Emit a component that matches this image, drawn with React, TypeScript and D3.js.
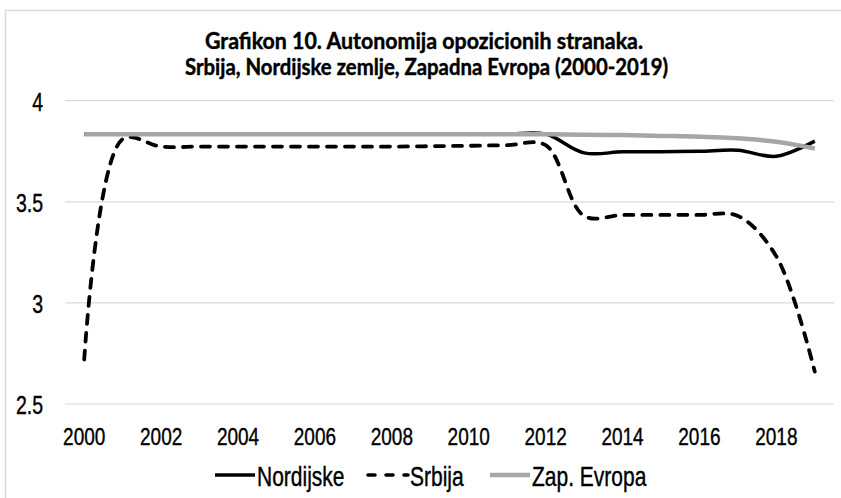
import React from "react";
import * as d3 from "d3";

const years = d3.range(2000, 2020).map(String);
const xTickLabels = ["2000", "2002", "2004", "2006", "2008", "2010", "2012", "2014", "2016", "2018"];
const yTicks = [2.5, 3, 3.5, 4];

const nordijske = [3.835, 3.835, 3.835, 3.835, 3.835, 3.835, 3.835, 3.835, 3.835, 3.835, 3.835, 3.835, 3.835, 3.742, 3.747, 3.748, 3.75, 3.755, 3.725, 3.8];
const srbija = [2.72, 3.81, 3.773, 3.773, 3.773, 3.773, 3.773, 3.773, 3.773, 3.775, 3.777, 3.78, 3.78, 3.43, 3.435, 3.435, 3.435, 3.43, 3.23, 2.66];
const zapEvropa = [3.834, 3.834, 3.834, 3.834, 3.834, 3.834, 3.834, 3.834, 3.834, 3.834, 3.834, 3.834, 3.834, 3.832, 3.83, 3.826, 3.822, 3.814, 3.797, 3.764];

const titleLines = ["Grafikon 10. Autonomija opozicionih stranaka.", "Srbija, Nordijske zemlje, Zapadna Evropa (2000-2019)"];

const W = 841;
const H = 498;

export default function App() {
  const x = d3.scaleBand<string>().domain(years).range([65, 834]);
  const y = d3.scaleLinear().domain([2.5, 4]).range([404, 100.7]);
  const cx = (yr: string) => (x(yr) as number) + x.bandwidth() / 2;

  const line = d3
    .line<number>()
    .x((_, i) => cx(years[i]))
    .y((d) => y(d))
    .curve(d3.curveCatmullRom.alpha(0.5));

  const font = "'Liberation Sans', Arial, sans-serif";
  const sy = 1.3;

  const legend = [
    { name: "Nordijske", x0: 215, color: "#000", width: 3.5, dash: undefined as string | undefined },
    { name: "Srbija", x0: 368, color: "#000", width: 3.5, dash: "7,11" },
    { name: "Zap. Evropa", x0: 490, color: "#a6a6a6", width: 4.5, dash: undefined },
  ];

  return (
    <svg width={W} height={H} style={{ position: "fixed", left: 0, top: 0, background: "#fff" }}>
      <rect x={0} y={0} width={W} height={H} fill="#fff" />
      <rect x={5.5} y={10.5} width={W + 20} height={H + 20} fill="none" stroke="#d9d9d9" strokeWidth={1.5} />

      {titleLines.map((t, i) => (
        <text
          key={t}
          transform={`translate(${i === 0 ? 424 : 426.5},${i === 0 ? 48.5 : 75}) scale(1,1.3)`}
          textAnchor="middle"
          fontFamily="Lato, 'Open Sans', sans-serif"
          fontWeight={700}
          fontSize={18}
          fill="#000"
          stroke="#000"
          strokeWidth={0.35}
          textLength={i === 0 ? 438 : 483}
          lengthAdjust="spacingAndGlyphs"
        >
          {t}
        </text>
      ))}

      {yTicks.map((t) => (
        <g key={t}>
          <line x1={65} x2={834} y1={y(t)} y2={y(t)} stroke="#d9d9d9" strokeWidth={1.2} />
          <text
            transform={`translate(43,${y(t) + 1}) scale(1,${sy})`}
            textAnchor="end"
            dy="0.35em"
            fontFamily={font}
            fontSize={19.5}
            fill="#000"
            stroke="#000"
            strokeWidth={0.3}
          >
            {String(t)}
          </text>
        </g>
      ))}

      {xTickLabels.map((t) => (
        <text
          key={t}
          transform={`translate(${cx(t)},436) scale(1,${sy})`}
          textAnchor="middle"
          dy="0.35em"
          fontFamily={font}
          fontSize={19}
          fill="#000"
          stroke="#000"
          strokeWidth={0.3}
        >
          {t}
        </text>
      ))}

      <path d={line(nordijske) || ""} fill="none" stroke="#000" strokeWidth={3.5} strokeLinejoin="round" />
      <path
        d={line(srbija) || ""}
        fill="none"
        stroke="#000"
        strokeWidth={3.8}
        strokeDasharray="9,9"
        strokeLinecap="round"
        strokeLinejoin="round"
      />
      <path d={line(zapEvropa) || ""} fill="none" stroke="#a6a6a6" strokeWidth={4.5} strokeLinejoin="round" />

      {legend.map((l) => (
        <g key={l.name}>
          <line
            x1={l.x0}
            x2={l.x0 + 40}
            y1={475}
            y2={475}
            stroke={l.color}
            strokeWidth={l.width}
            strokeDasharray={l.dash}
            strokeLinecap={l.dash ? "round" : "butt"}
          />
          <text
            transform={`translate(${l.x0 + 42},476) scale(1,${sy})`}
            dy="0.35em"
            fontFamily={font}
            fontSize={21}
            fill="#000"
            stroke="#000"
            strokeWidth={0.3}
          >
            {l.name}
          </text>
        </g>
      ))}
    </svg>
  );
}
